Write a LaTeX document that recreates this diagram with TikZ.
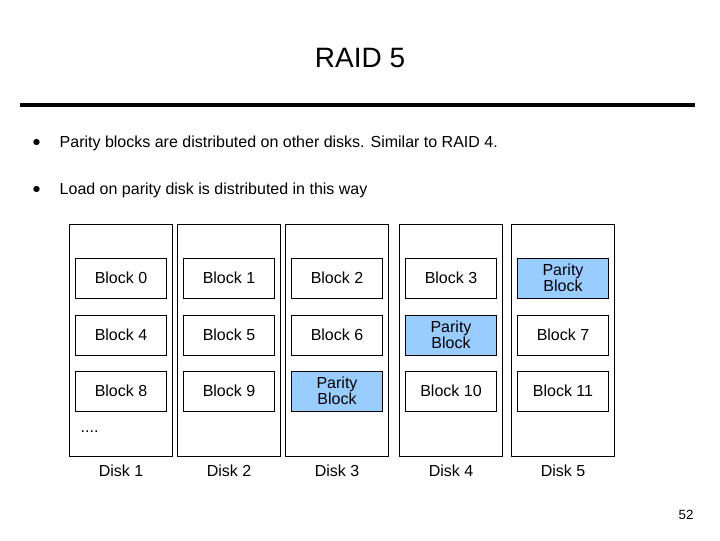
\documentclass[tikz,border=0pt]{standalone}
\usepackage{fontspec}
\setmainfont{Liberation Sans}
\usepackage{tikz}
\usetikzlibrary{positioning}
\definecolor{parityblue}{RGB}{153,204,255}
\tikzset{
  disk/.style = {draw, minimum width=77pt, minimum height=174pt, inner sep=0pt},
  block/.style = {draw, fill=white, minimum width=68pt, minimum height=30pt, inner sep=0pt, align=center, font=\fontsize{12}{12}\selectfont},
  parity/.style = {block, fill=parityblue},
  disk label/.style = {font=\fontsize{12}{14}\selectfont},
  bullet text/.style = {anchor=west, font=\fontsize{12}{14}\selectfont}
}
\begin{document}
\begin{tikzpicture}[x=0.75pt,y=-0.75pt]
\useasboundingbox (0,0) rectangle (720,540);

% -- title
\node[font=\fontsize{21}{24}\selectfont] (title) at (360,58) {RAID 5};
\draw[line width=3pt] (20,105) coordinate (l) -- (695,105) coordinate (r);

% -- bullets
\node[bullet text] (b1) at (28,143) {$\bullet$};
\node[bullet text] (t1) at (55,143) {Parity blocks are distributed on other disks. Similar to RAID 4.};
\node[bullet text] (b2) at (28,190) {$\bullet$};
\node[bullet text] (t2) at (55,190) {Load on parity disk is distributed in this way};

% -- disks
\foreach \x/\n in {121/1,229/2,337/3,451/4,563/5} {
  \node[disk] (d\n) at (\x,340) {};
  \node[disk label] (dl\n) at (\x,471) {Disk \n};
}

% -- blocks
\node[block] (k0) at (121,278) {Block 0};
\node[block] (k1) at (229,278) {Block 1};
\node[block] (k2) at (337,278) {Block 2};
\node[block] (k3) at (451,278) {Block 3};
\node[parity] (p0) at (563,278) {Parity\\Block};
\node[block] (k4) at (121,335) {Block 4};
\node[block] (k5) at (229,335) {Block 5};
\node[block] (k6) at (337,335) {Block 6};
\node[parity] (p1) at (451,335) {Parity\\Block};
\node[block] (k7) at (563,335) {Block 7};
\node[block] (k8) at (121,391) {Block 8};
\node[block] (k9) at (229,391) {Block 9};
\node[parity] (p2) at (337,391) {Parity\\Block};
\node[block] (k10) at (451,391) {Block 10};
\node[block] (k11) at (563,391) {Block 11};

\node[bullet text] (dots) at (76,432) {....};
\node[font=\fontsize{10}{12}\selectfont] (page) at (686,515) {52};
\end{tikzpicture}
\end{document}
